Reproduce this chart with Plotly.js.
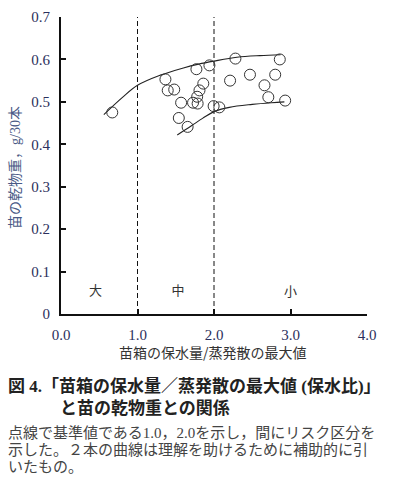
<!DOCTYPE html>
<html>
<head>
<meta charset="utf-8">
<script src="https://cdn.plot.ly/plotly-3.0.1.min.js"></script>
<style>html,body{margin:0;padding:0;background:#fff;}#chart{width:393px;height:485px;}</style>
</head>
<body>
<div id="chart"></div>
<script>
// Data
const ratioX = [0.67, 1.365, 1.395, 1.48, 1.77, 1.94, 2.28, 2.86, 1.86, 1.81, 1.78, 1.57, 1.726, 1.786, 1.995, 2.07, 2.21, 2.47, 2.80, 2.66, 2.71, 2.93, 1.54, 1.655];
const dryWeightY = [0.475, 0.553, 0.527, 0.529, 0.577, 0.586, 0.602, 0.600, 0.543, 0.527, 0.512, 0.498, 0.498, 0.496, 0.490, 0.487, 0.550, 0.564, 0.564, 0.539, 0.511, 0.503, 0.462, 0.441];
const upperCurveX = [0.56, 0.8, 1.0, 1.3, 1.6, 1.8, 2.0, 2.3, 2.6, 2.87];
const upperCurveY = [0.470, 0.510, 0.539, 0.563, 0.580, 0.589, 0.596, 0.605, 0.609, 0.611];
const lowerCurveX = [1.52, 1.7, 1.85, 2.0, 2.2, 2.5, 2.75, 2.92];
const lowerCurveY = [0.422, 0.443, 0.461, 0.477, 0.487, 0.494, 0.498, 0.500];
const riskThresholds = [1.0, 2.0];
const riskLabels = ['大', '中', '小'];
const riskLabelX = [0.45, 1.53, 3.0];
const riskLabelY = [0.052, 0.052, 0.05];
const xTickVals = [0, 1, 2, 3, 4];
const xTickText = ['0.0', '1.0', '2.0', '3.0', '4.0'];
const yTickVals = [0, 0.1, 0.2, 0.3, 0.4, 0.5, 0.6, 0.7];
const yTickText = ['0', '0.1', '0.2', '0.3', '0.4', '0.5', '0.6', '0.7'];
const yTitle = '苗の乾物重，g/30本';
const xTitle = '苗箱の保水量/蒸発散の最大値';
const captionTitle = ['図 4.「苗箱の保水量／蒸発散の最大値 (保水比)」', 'と苗の乾物重との関係'];
const captionBody = ['点線で基準値である1.0，2.0を示し，間にリスク区分を', '示した。２本の曲線は理解を助けるために補助的に引', 'いたもの。'];

const W = 393, H = 485, L = 61, R = 26, T = 17, B = 171;
const pw = W - L - R, ph = H - T - B;
const px = x => (x - L) / pw;
const py = y => (H - B - y) / ph;

const CJK = 'Noto Sans CJK JP, sans-serif';
const MIX = 'Liberation Serif, Noto Sans CJK JP, serif';
const SERIF = 'Liberation Serif, serif';

const traces = [];
riskThresholds.forEach(t => {
  traces.push({x: [t, t], y: [0, 0.7], mode: 'lines', line: {color: '#111', width: 1, dash: '5px,3px'}, hoverinfo: 'skip', showlegend: false});
});
traces.push({x: upperCurveX, y: upperCurveY, mode: 'lines', line: {color: '#222', width: 1.1, shape: 'spline'}, showlegend: false});
traces.push({x: lowerCurveX, y: lowerCurveY, mode: 'lines', line: {color: '#222', width: 1.1, shape: 'spline'}, showlegend: false});
traces.push({x: ratioX, y: dryWeightY, mode: 'markers', marker: {symbol: 'circle-open', size: 11, color: '#333', line: {width: 1, color: '#333'}}, showlegend: false});
traces.push({x: riskLabelX, y: riskLabelY, mode: 'text', text: riskLabels, textfont: {family: CJK, size: 13, color: '#333'}, showlegend: false});

const annotations = [
  {text: yTitle, xref: 'paper', yref: 'paper', x: px(15), y: py(168), textangle: -90, showarrow: false, xanchor: 'center', yanchor: 'middle', font: {family: MIX, size: 14, color: '#4a5a86'}},
  {text: xTitle, xref: 'paper', yref: 'paper', x: px(213), y: py(352), showarrow: false, xanchor: 'center', yanchor: 'middle', font: {family: CJK, size: 14, color: '#333'}},
  {text: '<b>' + captionTitle[0] + '</b>', xref: 'paper', yref: 'paper', x: px(6), y: py(387), showarrow: false, xanchor: 'left', yanchor: 'middle', font: {family: MIX, size: 17, color: '#222'}},
  {text: '<b>' + captionTitle[1] + '</b>', xref: 'paper', yref: 'paper', x: px(58), y: py(408), showarrow: false, xanchor: 'left', yanchor: 'middle', font: {family: MIX, size: 17, color: '#222'}}
];
const bodyY = [433, 450, 467];
captionBody.forEach((t, i) => {
  annotations.push({text: t, xref: 'paper', yref: 'paper', x: px(6), y: py(bodyY[i]), showarrow: false, xanchor: 'left', yanchor: 'middle', font: {family: MIX, size: 15, color: '#444'}});
});

const layout = {
  width: W, height: H,
  margin: {l: L, r: R, t: T, b: B, pad: 0},
  paper_bgcolor: '#fff', plot_bgcolor: '#fff',
  showlegend: false,
  xaxis: {range: [0, 4], tickvals: xTickVals, ticktext: xTickText, ticks: 'inside', ticklen: 5, tickwidth: 2, tickcolor: '#111',
    showline: true, linewidth: 2, linecolor: '#111', showgrid: false, zeroline: false, ticklabelstandoff: 6,
    tickfont: {family: SERIF, size: 15, color: '#2b2f5c'}, fixedrange: true},
  yaxis: {range: [0, 0.7], tickvals: yTickVals, ticktext: yTickText, ticks: 'inside', ticklen: 5, tickwidth: 2, tickcolor: '#111',
    showline: true, linewidth: 2, linecolor: '#111', showgrid: false, zeroline: false, ticklabelstandoff: 6,
    tickfont: {family: SERIF, size: 15, color: '#2b2f5c'}, fixedrange: true},
  annotations: annotations
};

Plotly.newPlot('chart', traces, layout, {staticPlot: true, displayModeBar: false});
</script>
</body>
</html>
